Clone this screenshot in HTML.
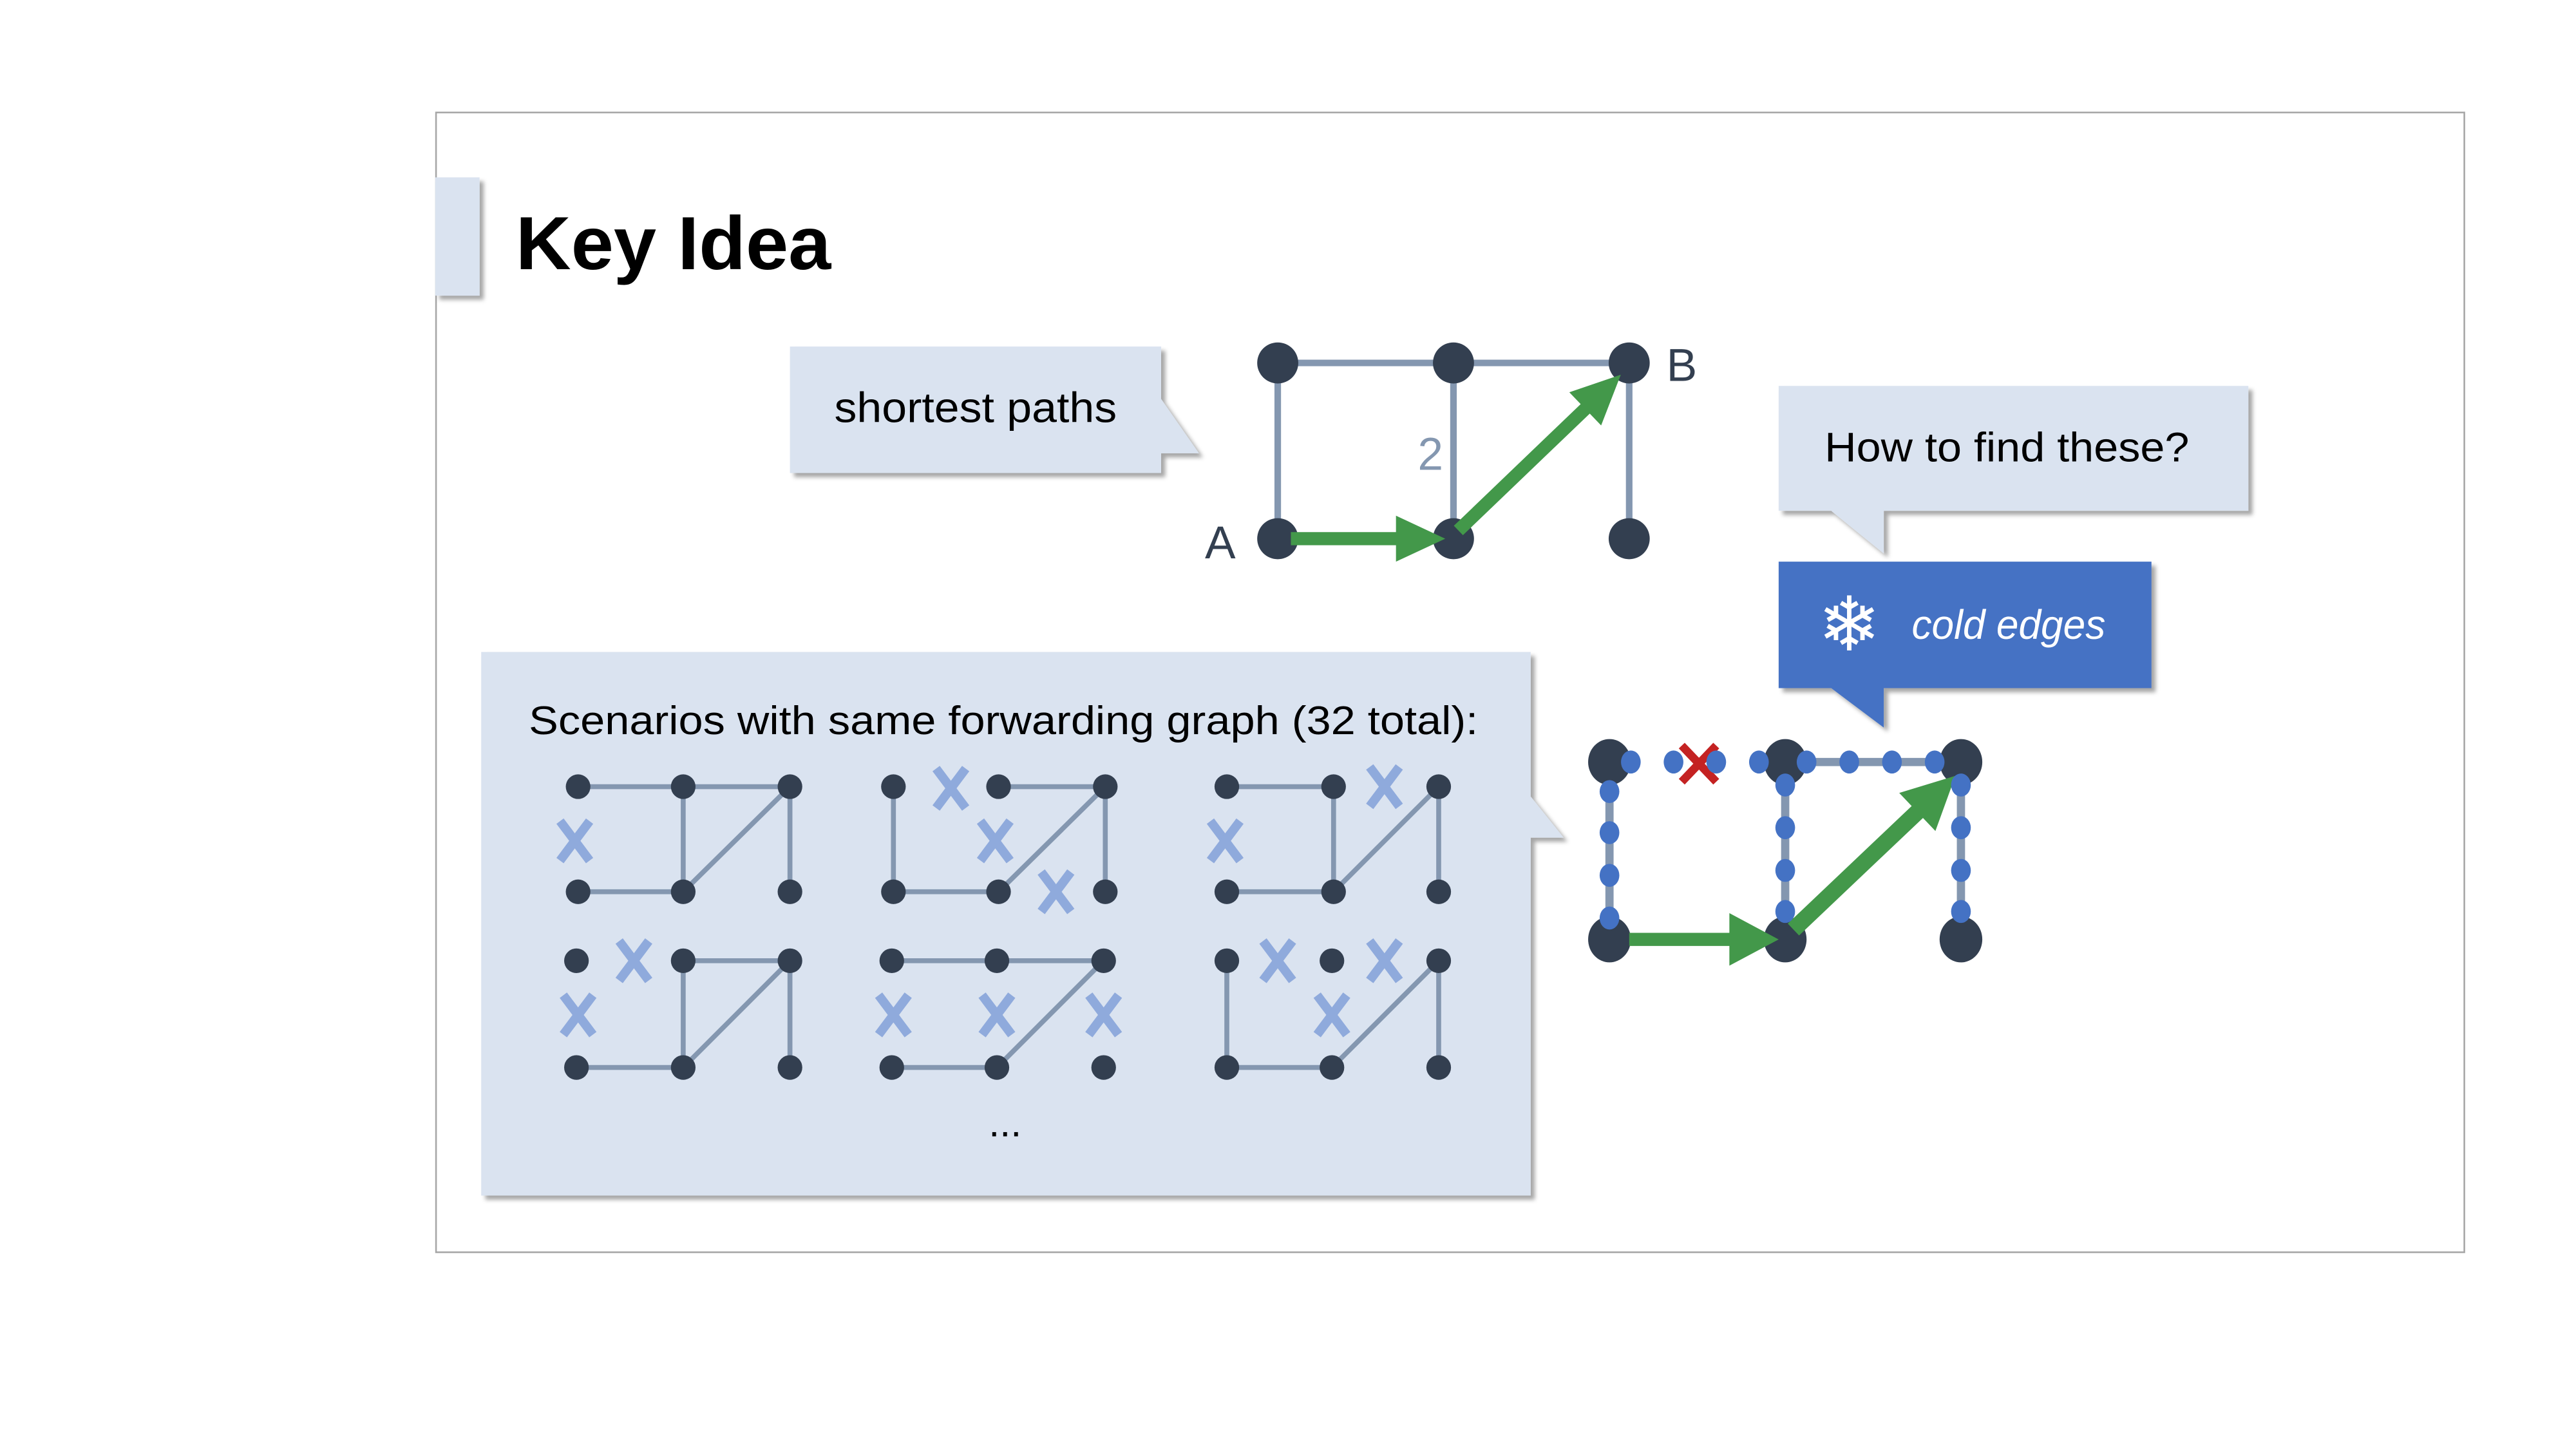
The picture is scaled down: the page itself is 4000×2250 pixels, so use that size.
<!DOCTYPE html>
<html><head><meta charset="utf-8"><style>
html,body{margin:0;padding:0;background:#fff;}
svg{display:block;}
text{font-family:"Liberation Sans","DejaVu Sans",sans-serif;}
</style></head><body>
<svg width="4000" height="2250" viewBox="0 0 1568.5 882.3" preserveAspectRatio="none" xmlns="http://www.w3.org/2000/svg">
<defs>
<filter id="sh" x="-10%" y="-10%" width="130%" height="130%"><feDropShadow dx="2.5" dy="2.5" stdDeviation="1.2" flood-color="#000" flood-opacity="0.35"/></filter>
<g id="xm"><line x1="-9" y1="-12" x2="9" y2="12" stroke="#8faadc" stroke-width="5.5"/><line x1="9" y1="-12" x2="-9" y2="12" stroke="#8faadc" stroke-width="5.5"/></g>
</defs>
<rect x="265.5" y="68.5" width="1235" height="694" fill="#fff" stroke="#a6a6a6" stroke-width="1"/>
<rect x="265" y="108" width="27" height="72" fill="#dae3f0" filter="url(#sh)"/>
<text x="314" y="164" font-size="46" font-weight="bold" fill="#000" textLength="192" lengthAdjust="spacingAndGlyphs">Key Idea</text>

<path d="M481 211 H707 V243 L730 276 H707 V288 H481 Z" fill="#dae3f0" filter="url(#sh)"/>
<text x="508" y="257" font-size="26" fill="#000" textLength="172" lengthAdjust="spacingAndGlyphs">shortest paths</text>

<g stroke="#8497b0" stroke-width="4">
<line x1="778" y1="221" x2="992" y2="221"/>
<line x1="778" y1="221" x2="778" y2="328"/>
<line x1="885" y1="221" x2="885" y2="328"/>
<line x1="992" y1="221" x2="992" y2="328"/>
</g>
<g fill="#333f50">
<circle cx="778" cy="221" r="12.5"/><circle cx="885" cy="221" r="12.5"/><circle cx="992" cy="221" r="12.5"/>
<circle cx="778" cy="328" r="12.5"/><circle cx="885" cy="328" r="12.5"/><circle cx="992" cy="328" r="12.5"/>
</g>
<polygon points="786,324 850,324 850,314 880,328 850,342 850,332 786,332" fill="#43984a"/>
<g transform="translate(888,323) rotate(-43.8)"><polygon points="0,-4 107,-4 107,-14 137,0 107,14 107,4 0,4" fill="#43984a"/></g>
<text x="743" y="340" font-size="28" fill="#333f50" text-anchor="middle">A</text>
<text x="1024" y="232" font-size="28" fill="#333f50" text-anchor="middle">B</text>
<text x="871" y="286" font-size="28" fill="#8497b0" text-anchor="middle">2</text>

<path d="M1083 235 H1369 V311 H1147 V337 L1115 311 H1083 Z" fill="#dae3f0" filter="url(#sh)"/>
<text x="1111" y="281" font-size="25" fill="#000" textLength="222" lengthAdjust="spacingAndGlyphs">How to find these?</text>

<path d="M1083 342 H1310 V419 H1147 V443 L1115 419 H1083 Z" fill="#4472c4" filter="url(#sh)"/>
<text x="1126" y="396" font-size="46" fill="#fff" text-anchor="middle" font-family="DejaVu Sans">❄</text>
<text x="1164" y="389" font-size="25" fill="#fff" font-style="italic" textLength="118" lengthAdjust="spacingAndGlyphs">cold edges</text>

<path d="M293 397 H932 V485 L952 510 H932 V728 H293 Z" fill="#dae3f0" filter="url(#sh)"/>
<text x="322" y="447" font-size="24.5" fill="#000" textLength="578" lengthAdjust="spacingAndGlyphs">Scenarios with same forwarding graph (32 total):</text>
<text x="612" y="692" font-size="24" fill="#000" text-anchor="middle">...</text>

<g stroke="#8497b0" stroke-width="3">
<line x1="352" y1="479" x2="481" y2="479"/><line x1="352" y1="543" x2="416" y2="543"/>
<line x1="416" y1="479" x2="416" y2="543"/><line x1="481" y1="479" x2="481" y2="543"/><line x1="416" y1="543" x2="481" y2="479"/>
<line x1="608" y1="479" x2="673" y2="479"/><line x1="544" y1="543" x2="608" y2="543"/>
<line x1="544" y1="479" x2="544" y2="543"/><line x1="673" y1="479" x2="673" y2="543"/><line x1="608" y1="543" x2="673" y2="479"/>
<line x1="747" y1="479" x2="812" y2="479"/><line x1="747" y1="543" x2="812" y2="543"/>
<line x1="812" y1="479" x2="812" y2="543"/><line x1="876" y1="479" x2="876" y2="543"/><line x1="812" y1="543" x2="876" y2="479"/>
<line x1="416" y1="585" x2="481" y2="585"/><line x1="351" y1="650" x2="416" y2="650"/>
<line x1="416" y1="585" x2="416" y2="650"/><line x1="481" y1="585" x2="481" y2="650"/><line x1="416" y1="650" x2="481" y2="585"/>
<line x1="543" y1="585" x2="672" y2="585"/><line x1="543" y1="650" x2="607" y2="650"/><line x1="607" y1="650" x2="672" y2="585"/>
<line x1="747" y1="585" x2="747" y2="650"/><line x1="747" y1="650" x2="811" y2="650"/>
<line x1="876" y1="585" x2="876" y2="650"/><line x1="811" y1="650" x2="876" y2="585"/>
</g>
<g fill="#333f50">
<circle cx="352" cy="479" r="7.5"/><circle cx="416" cy="479" r="7.5"/><circle cx="481" cy="479" r="7.5"/>
<circle cx="352" cy="543" r="7.5"/><circle cx="416" cy="543" r="7.5"/><circle cx="481" cy="543" r="7.5"/>
<circle cx="544" cy="479" r="7.5"/><circle cx="608" cy="479" r="7.5"/><circle cx="673" cy="479" r="7.5"/>
<circle cx="544" cy="543" r="7.5"/><circle cx="608" cy="543" r="7.5"/><circle cx="673" cy="543" r="7.5"/>
<circle cx="747" cy="479" r="7.5"/><circle cx="812" cy="479" r="7.5"/><circle cx="876" cy="479" r="7.5"/>
<circle cx="747" cy="543" r="7.5"/><circle cx="812" cy="543" r="7.5"/><circle cx="876" cy="543" r="7.5"/>
<circle cx="351" cy="585" r="7.5"/><circle cx="416" cy="585" r="7.5"/><circle cx="481" cy="585" r="7.5"/>
<circle cx="351" cy="650" r="7.5"/><circle cx="416" cy="650" r="7.5"/><circle cx="481" cy="650" r="7.5"/>
<circle cx="543" cy="585" r="7.5"/><circle cx="607" cy="585" r="7.5"/><circle cx="672" cy="585" r="7.5"/>
<circle cx="543" cy="650" r="7.5"/><circle cx="607" cy="650" r="7.5"/><circle cx="672" cy="650" r="7.5"/>
<circle cx="747" cy="585" r="7.5"/><circle cx="811" cy="585" r="7.5"/><circle cx="876" cy="585" r="7.5"/>
<circle cx="747" cy="650" r="7.5"/><circle cx="811" cy="650" r="7.5"/><circle cx="876" cy="650" r="7.5"/>
</g>
<use href="#xm" x="350" y="512"/>
<use href="#xm" x="579" y="480"/><use href="#xm" x="606" y="512"/><use href="#xm" x="643" y="543"/>
<use href="#xm" x="843" y="479"/><use href="#xm" x="746" y="512"/>
<use href="#xm" x="386" y="585"/><use href="#xm" x="352" y="618"/>
<use href="#xm" x="544" y="618"/><use href="#xm" x="607" y="618"/><use href="#xm" x="672" y="618"/>
<use href="#xm" x="778" y="585"/><use href="#xm" x="843" y="585"/><use href="#xm" x="811" y="618"/>

<g stroke="#8497b0" stroke-width="5">
<line x1="980" y1="464" x2="980" y2="572"/>
<line x1="1087" y1="464" x2="1087" y2="572"/>
<line x1="1194" y1="464" x2="1194" y2="572"/>
<line x1="1087" y1="464" x2="1194" y2="464"/>
</g>
<g fill="#333f50">
<ellipse cx="980" cy="464" rx="13" ry="14"/><ellipse cx="1087" cy="464" rx="13" ry="14"/><ellipse cx="1194" cy="464" rx="13" ry="14"/>
<ellipse cx="980" cy="572" rx="13" ry="14"/><ellipse cx="1087" cy="572" rx="13" ry="14"/><ellipse cx="1194" cy="572" rx="13" ry="14"/>
</g>
<g stroke="#c42222" stroke-width="5"><line x1="1024" y1="454" x2="1045" y2="476"/><line x1="1045" y1="454" x2="1024" y2="476"/></g>
<polygon points="992,568 1053,568 1053,556 1083,572 1053,588 1053,576 992,576" fill="#43984a"/>
<g transform="translate(1092,566) rotate(-43.5)"><polygon points="0,-5 104,-5 104,-16 136,0 104,16 104,5 0,5" fill="#43984a"/></g>
<g fill="#4472c4">
<ellipse cx="993" cy="464" rx="6" ry="7"/><ellipse cx="1019" cy="464" rx="6" ry="7"/><ellipse cx="1045" cy="464" rx="6" ry="7"/><ellipse cx="1071" cy="464" rx="6" ry="7"/>
<ellipse cx="1100" cy="464" rx="6" ry="7"/><ellipse cx="1126" cy="464" rx="6" ry="7"/><ellipse cx="1152" cy="464" rx="6" ry="7"/><ellipse cx="1178" cy="464" rx="6" ry="7"/>
<ellipse cx="980" cy="482" rx="6" ry="7"/><ellipse cx="980" cy="507" rx="6" ry="7"/><ellipse cx="980" cy="533" rx="6" ry="7"/><ellipse cx="980" cy="559" rx="6" ry="7"/>
<ellipse cx="1087" cy="478" rx="6" ry="7"/><ellipse cx="1087" cy="504" rx="6" ry="7"/><ellipse cx="1087" cy="530" rx="6" ry="7"/><ellipse cx="1087" cy="555" rx="6" ry="7"/>
<ellipse cx="1194" cy="478" rx="6" ry="7"/><ellipse cx="1194" cy="504" rx="6" ry="7"/><ellipse cx="1194" cy="530" rx="6" ry="7"/><ellipse cx="1194" cy="555" rx="6" ry="7"/>
</g>
</svg>
</body></html>
